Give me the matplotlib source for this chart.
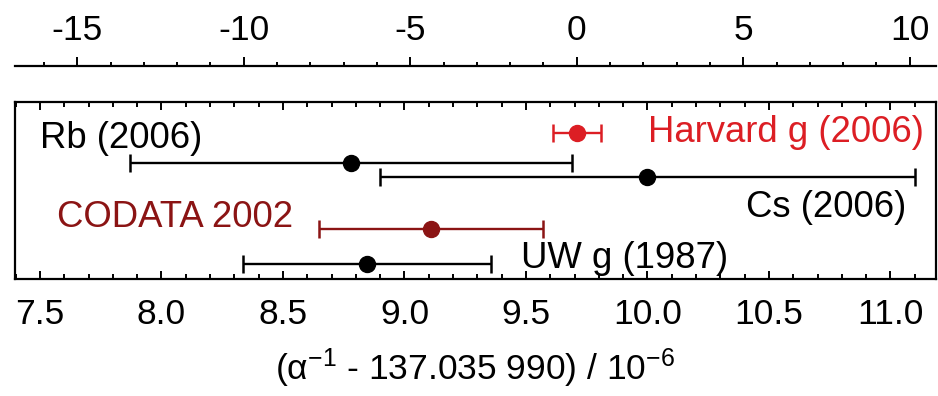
import matplotlib
matplotlib.use('Agg')
import matplotlib.pyplot as plt
from matplotlib.ticker import MultipleLocator

# (alpha^-1 - 137.035 990) / 1e-6 ; value, uncertainty
names = ['Harvard g (2006)', 'Rb (2006)', 'Cs (2006)', 'CODATA 2002', 'UW g (1987)']
values = [9.710, 8.780, 10.000, 9.110, 8.845]
errors = [0.098, 0.910, 1.100, 0.460, 0.510]
colors = ['#dc1e24', 'black', 'black', '#8b1414', 'black']
rows = [0.175, 0.345, 0.424, 0.718, 0.915]

# label placement (x in data units, baseline in row units)
label_x = [10.002, 7.50, 10.405, 7.57, 9.479]
label_y = [0.226, 0.260, 0.650, 0.706, 0.938]

ref = 9.709          # Harvard value, zero of the ppb scale
ppb = 0.137036       # 1 ppb of alpha^-1 in units of 1e-6

top_ticks = [-15, -10, -5, 0, 5, 10]

plt.rcParams['font.family'] = ['Liberation Sans', 'DejaVu Sans']
plt.rcParams['axes.unicode_minus'] = False
plt.rcParams['mathtext.fontset'] = 'custom'
plt.rcParams['mathtext.rm'] = 'Liberation Sans'
plt.rcParams['mathtext.it'] = 'Liberation Sans'
plt.rcParams['mathtext.sf'] = 'Liberation Sans'

W, H = 938, 396
fig = plt.figure(figsize=(W / 100, H / 100), dpi=100)

left, right = 15 / W, 936 / W
ax = fig.add_axes([left, 1 - 279 / H, right - left, (279 - 102) / H])
xmin = 7.5 + (15 - 40) / 243
xmax = 7.5 + (936 - 40) / 243
ax.set_xlim(xmin, xmax)
ax.set_ylim(1, 0)

for v, e, c, r in zip(values, errors, colors, rows):
    ax.errorbar(v, r, xerr=e, fmt='o', color=c, ms=11.5, elinewidth=1.7,
                capsize=6.5, capthick=1.8)

for n, x, y, c in zip(names, label_x, label_y, colors):
    ax.text(x, y, n, color=c, fontsize=26.3, ha='left', va='baseline')

for s in ax.spines.values():
    s.set_linewidth(1.6)
ax.set_yticks([])
ax.xaxis.set_major_locator(MultipleLocator(0.5))
ax.xaxis.set_minor_locator(MultipleLocator(0.1))
ax.xaxis.set_major_formatter(matplotlib.ticker.FormatStrFormatter('%.1f'))
ax.tick_params(axis='x', which='both', direction='in', top=True, bottom=True,
               labelsize=25.5, pad=14, width=1.4)
ax.tick_params(axis='x', which='major', length=6)
ax.tick_params(axis='x', which='minor', length=3.5)
ax.set_xlabel(r'(α$^{-1}$ - 137.035 990) / 10$^{-6}$', fontsize=25.5, labelpad=11)

# separate ppb axis above the box
ax_top = fig.add_axes([left, 1 - 66 / H, right - left, 0])
ax_top.patch.set_visible(False)
ax_top.set_xlim((xmin - ref) / ppb, (xmax - ref) / ppb)
for k in ['left', 'right', 'bottom']:
    ax_top.spines[k].set_visible(False)
ax_top.spines['top'].set_linewidth(1.6)
ax_top.set_yticks([])
ax_top.xaxis.tick_top()
ax_top.set_xticks(top_ticks)
ax_top.xaxis.set_minor_locator(MultipleLocator(1))
ax_top.tick_params(axis='x', which='both', direction='out', labelsize=25.5,
                   pad=7, width=1.4)
ax_top.tick_params(axis='x', which='major', length=6.5)
ax_top.tick_params(axis='x', which='minor', length=3)

fig.savefig('out.png', dpi=100)
